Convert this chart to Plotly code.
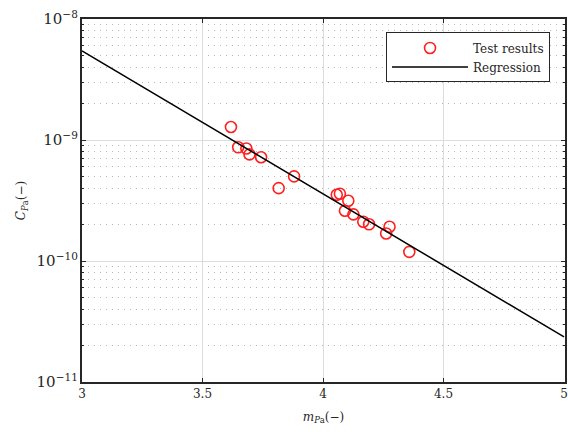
import plotly.graph_objects as go

# Test results
m_pa = [3.618, 3.648, 3.682, 3.695, 3.743, 3.816, 3.880, 4.057, 4.070, 4.105,
        4.091, 4.126, 4.167, 4.191, 4.276, 4.262, 4.358]
c_pa = [1.28e-9, 8.7e-10, 8.5e-10, 7.6e-10, 7.2e-10, 4.0e-10, 5.0e-10, 3.53e-10,
        3.6e-10, 3.15e-10, 2.6e-10, 2.43e-10, 2.11e-10, 2.01e-10, 1.92e-10,
        1.69e-10, 1.19e-10]

# Regression line end points
reg_m = [3.0, 5.0]
reg_c = [5.45e-9, 2.36e-11]

x_ticks = [3, 3.5, 4, 4.5, 5]
x_ticklabels = ["3", "3.5", "4", "4.5", "5"]

FONT = "DejaVu Serif"
INK = "#262626"

fig = go.Figure()
fig.add_trace(go.Scatter(
    x=m_pa, y=c_pa, mode="markers", name="Test results",
    marker=dict(symbol="circle-open", size=11, color="#ff2020",
                line=dict(width=1.6, color="#ff2020")),
))
fig.add_trace(go.Scatter(
    x=reg_m, y=reg_c, mode="lines", name="Regression",
    line=dict(color="black", width=1.5),
))

grid_major = "#dcdcdc"
grid_minor = "#b8b8b8"

fig.update_layout(
    width=568, height=432,
    margin=dict(l=82, r=0, t=19, b=50),
    paper_bgcolor="white", plot_bgcolor="white",
    font=dict(family=FONT, size=12, color=INK),
    showlegend=True,
    legend=dict(x=0.969, y=0.963, xanchor="right", yanchor="top",
                bgcolor="white", bordercolor=INK, borderwidth=1,
                font=dict(family=FONT, size=12, color=INK),
                tracegroupgap=0, itemwidth=76),
    xaxis=dict(
        range=[3, 5.004], tickvals=x_ticks, ticktext=x_ticklabels,
        ticks="inside", ticklen=4, tickcolor=INK, ticklabeloverflow="allow",
        showline=True, linecolor=INK, linewidth=1.5, mirror="ticks",
        showgrid=True, gridcolor=grid_major, gridwidth=1,
        zeroline=False,
        title=dict(text="<i>m</i><sub><i>P</i>a</sub>(−)", standoff=12,
                   font=dict(family=FONT, size=12)),
        tickfont=dict(family=FONT, size=12),
    ),
    yaxis=dict(
        type="log", range=[-11, -8], dtick=1, exponentformat="power",
        ticks="inside", ticklen=4, tickcolor=INK,
        showline=True, linecolor=INK, linewidth=1.5, mirror="ticks",
        showgrid=True, gridcolor=grid_major, gridwidth=1,
        zeroline=False,
        minor=dict(showgrid=True, gridcolor=grid_minor, griddash="1px,5px",
                   gridwidth=1, ticks="inside", ticklen=2, tickcolor=INK),
        title=dict(text="<i>C</i><sub><i>P</i>a</sub>(−)", standoff=8,
                   font=dict(family=FONT, size=12)),
        tickfont=dict(family=FONT, size=12),
    ),
)

fig.write_html("out.html")
